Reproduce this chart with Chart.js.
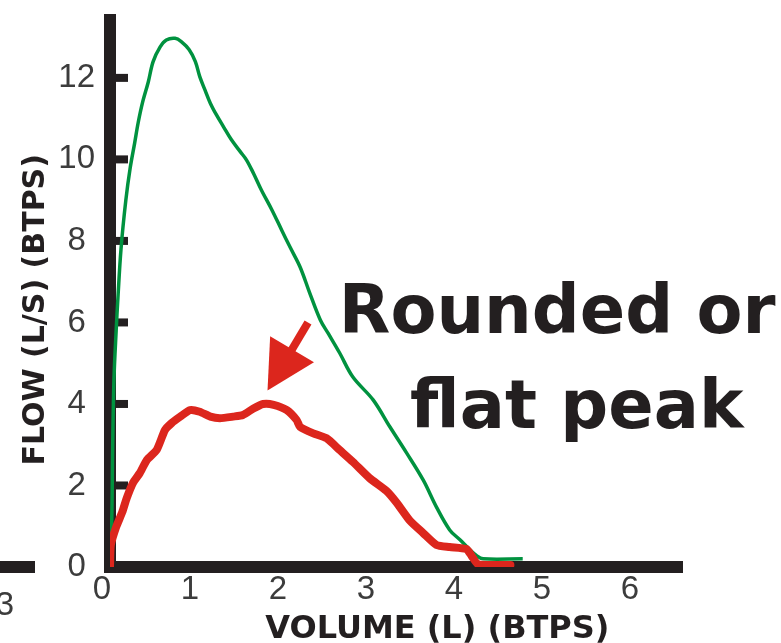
<!DOCTYPE html>
<html>
<head>
<meta charset="utf-8">
<script src="https://cdn.jsdelivr.net/npm/chart.js@4.4.1/dist/chart.umd.min.js"></script>
<style>
  html, body { margin: 0; padding: 0; background: #ffffff; }
  #wrap { width: 781px; height: 643px; position: relative; }
</style>
</head>
<body>
<div id="wrap"><canvas id="c" width="781" height="643"></canvas></div>
<script>
// Expiratory flow-volume curves: volume in litres (BTPS), flow in L/s (BTPS)
const normalVolume = [0, 0.02, 0.03, 0.045, 0.07, 0.09, 0.125, 0.18, 0.23, 0.28, 0.32, 0.37, 0.435, 0.49, 0.57,
  0.64, 0.74, 0.81, 0.90, 0.97, 1.02, 1.08, 1.14, 1.21, 1.29, 1.38, 1.48, 1.55, 1.63, 1.72, 1.84, 1.95, 2.05,
  2.16, 2.27, 2.39, 2.48, 2.61, 2.76, 2.99, 3.18, 3.37, 3.56, 3.71, 3.86, 3.98, 4.09, 4.17, 4.24, 4.69];
const normalFlow = [0, 1.15, 2.9, 4.6, 5.8, 6.6, 7.8, 9.0, 9.8, 10.4, 10.9, 11.4, 11.9, 12.4, 12.76,
  12.93, 12.97, 12.89, 12.69, 12.4, 12.03, 11.7, 11.38, 11.09, 10.8, 10.48, 10.19, 9.99, 9.66, 9.25, 8.76, 8.27, 7.83,
  7.36, 6.72, 6.06, 5.73, 5.25, 4.66, 4.1, 3.44, 2.8, 2.13, 1.47, 0.91, 0.66, 0.42, 0.27, 0.2, 0.2];

const obstructedVolume = [0, 0.01, 0.07, 0.14, 0.19, 0.26, 0.34, 0.42, 0.53, 0.625, 0.70, 0.80, 0.91, 1.02, 1.14,
  1.25, 1.40, 1.51, 1.63, 1.74, 1.86, 2.01, 2.12, 2.16, 2.31, 2.46, 2.61, 2.76, 2.95, 3.14, 3.26, 3.41, 3.56,
  3.71, 3.86, 4.05, 4.11, 4.18, 4.32, 4.55];
const obstructedFlow = [0, 0.54, 0.98, 1.35, 1.69, 2.06, 2.31, 2.63, 2.87, 3.36, 3.53, 3.69, 3.85, 3.81, 3.69,
  3.65, 3.69, 3.73, 3.89, 4.0, 3.98, 3.85, 3.61, 3.44, 3.28, 3.16, 2.87, 2.58, 2.18, 1.87, 1.57, 1.13, 0.83,
  0.54, 0.49, 0.44, 0.27, 0.07, 0.05, 0.05];

const volumeTicks = [0, 1, 2, 3, 4, 5, 6];
const flowTicks = [0, 2, 4, 6, 8, 10, 12];

const xTitle = 'VOLUME (L) (BTPS)';
const yTitle = 'FLOW (L/S) (BTPS)';
const noteLines = ['Rounded or', 'flat peak'];
const neighbourLabel = '3';

// annotation arrow, in volume / flow units
const arrowFrom = { x: 2.25, y: 6.0 };
const arrowTo = { x: 1.79, y: 4.33 };

const INK = '#231f20';
const GREEN = '#00923f';
const RED = '#dc261d';
const LABEL_GREY = '#3c3c3c';
const TICK_FONT = { family: '"Liberation Sans", Arial, sans-serif', size: 33 };

const toPoints = (xs, ys) => xs.map((v, i) => ({ x: v, y: ys[i] }));

const decorations = {
  id: 'decorations',
  beforeDatasetsDraw(chart) {
    const { ctx, scales: { x, y } } = chart;
    const x0 = x.getPixelForValue(0);
    const y0 = y.getPixelForValue(0);
    ctx.save();
    ctx.fillStyle = INK;
    // short tick marks pointing into the plot
    flowTicks.forEach(v => {
      if (v === 0) return;
      const py = y.getPixelForValue(v);
      ctx.fillRect(x0 + 6, py - 4, 12, 8);
    });
    // edge of the neighbouring panel's volume axis
    ctx.fillRect(0, y0 - 6, 35, 12);
    ctx.font = '33px "Liberation Sans", Arial, sans-serif';
    ctx.fillStyle = LABEL_GREY;
    ctx.textAlign = 'right';
    ctx.textBaseline = 'alphabetic';
    ctx.fillText(neighbourLabel, 14, y0 + 48);
    ctx.restore();
  },
  afterDatasetsDraw(chart) {
    const { ctx, scales: { x, y } } = chart;
    ctx.save();

    // arrow pointing at the flattened peak
    const sx = x.getPixelForValue(arrowFrom.x), sy = y.getPixelForValue(arrowFrom.y);
    const tx = x.getPixelForValue(arrowTo.x), ty = y.getPixelForValue(arrowTo.y);
    const len = Math.hypot(tx - sx, ty - sy);
    const ux = (tx - sx) / len, uy = (ty - sy) / len;
    const headLen = 48, headHalf = 25.5;
    const bx = tx - ux * headLen, by = ty - uy * headLen;
    ctx.strokeStyle = RED;
    ctx.fillStyle = RED;
    ctx.lineWidth = 8;
    ctx.lineCap = 'butt';
    ctx.beginPath();
    ctx.moveTo(sx, sy);
    ctx.lineTo(bx + ux * 2, by + uy * 2);
    ctx.stroke();
    ctx.beginPath();
    ctx.moveTo(tx, ty);
    ctx.lineTo(bx - uy * headHalf, by + ux * headHalf);
    ctx.lineTo(bx + uy * headHalf, by - ux * headHalf);
    ctx.closePath();
    ctx.fill();

    // callout text
    ctx.fillStyle = INK;
    ctx.font = 'bold 67px "DejaVu Sans", sans-serif';
    ctx.textAlign = 'left';
    ctx.textBaseline = 'alphabetic';
    ctx.fillText(noteLines[0], x.getPixelForValue(2.6), y.getPixelForValue(5.74));
    ctx.fillText(noteLines[1], x.getPixelForValue(3.41), y.getPixelForValue(3.41));

    // axis titles
    ctx.font = 'bold 32px "DejaVu Sans", sans-serif';
    ctx.textAlign = 'center';
    ctx.fillText(xTitle, x.getPixelForValue(3.72), chart.chartArea.bottom + 71);

    ctx.translate(chart.chartArea.left - 66, y.getPixelForValue(6.31));
    ctx.rotate(-Math.PI / 2);
    ctx.font = 'bold 30px "DejaVu Sans", sans-serif';
    ctx.fillText(yTitle, 0, 0);
    ctx.restore();
  }
};

new Chart(document.getElementById('c'), {
  type: 'line',
  data: {
    datasets: [
      {
        label: 'Obstructed',
        data: toPoints(obstructedVolume, obstructedFlow),
        borderColor: RED,
        borderWidth: 8,
        tension: 0.2,
        borderCapStyle: 'round',
        borderJoinStyle: 'round',
        pointRadius: 0,
        fill: false
      },
      {
        label: 'Normal',
        data: toPoints(normalVolume, normalFlow),
        borderColor: GREEN,
        borderWidth: 3.5,
        tension: 0.35,
        borderJoinStyle: 'round',
        pointRadius: 0,
        fill: false
      }
    ]
  },
  options: {
    responsive: false,
    animation: false,
    devicePixelRatio: 1,
    layout: { padding: { left: 0, top: 20, right: 99, bottom: 0 } },
    plugins: { legend: { display: false }, tooltip: { enabled: false } },
    scales: {
      x: {
        type: 'linear',
        min: 0,
        max: 6.5,
        afterBuildTicks: s => { s.ticks = volumeTicks.map(v => ({ value: v })); },
        afterFit: s => { s.height = 76; s.paddingLeft = 0; s.paddingRight = 0; },
        grid: { display: false, drawTicks: false },
        border: { display: true, color: INK, width: 12 },
        ticks: { color: LABEL_GREY, font: TICK_FONT, padding: 3, labelOffset: -8, maxRotation: 0 }
      },
      y: {
        type: 'linear',
        min: 0,
        max: 13.42,
        afterBuildTicks: s => { s.ticks = flowTicks.map(v => ({ value: v })); },
        afterFit: s => { s.width = 110; s.paddingTop = 0; s.paddingBottom = 0; },
        grid: { display: false, drawTicks: false },
        border: { display: true, color: INK, width: 12 },
        ticks: { color: LABEL_GREY, font: TICK_FONT, padding: 15, crossAlign: 'center' }
      }
    }
  },
  plugins: [decorations]
});
</script>
</body>
</html>
